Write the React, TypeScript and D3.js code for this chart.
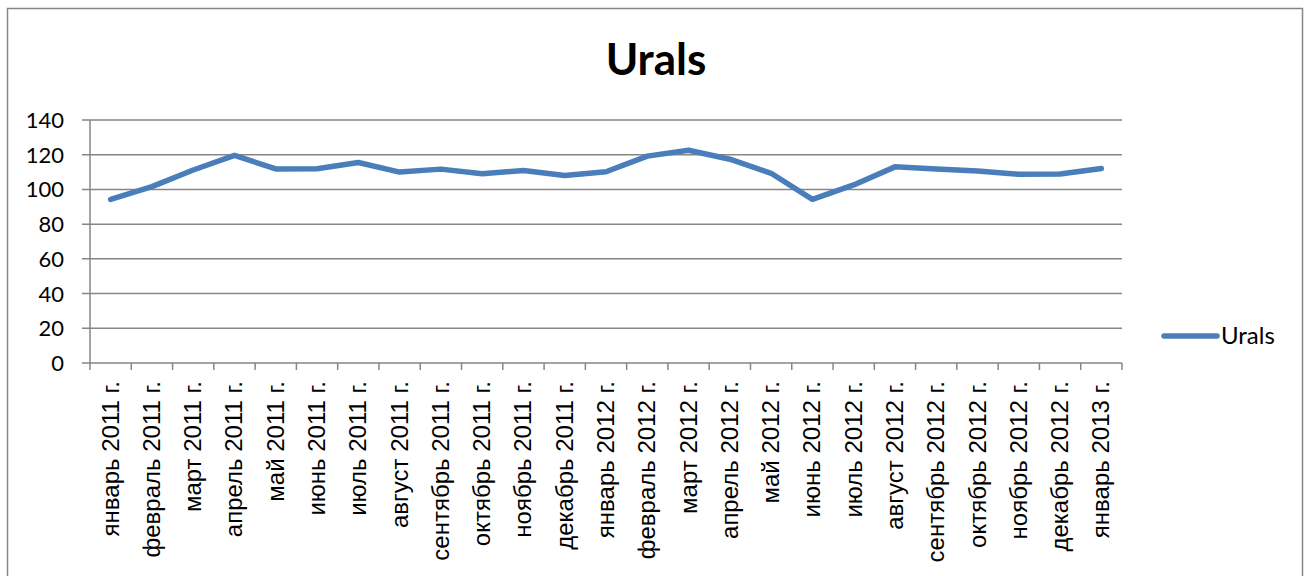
import React, { useEffect, useRef } from 'react';
import * as d3 from 'd3';

const months = [
  'январь 2011 г.', 'февраль 2011 г.', 'март 2011 г.', 'апрель 2011 г.', 'май 2011 г.',
  'июнь 2011 г.', 'июль 2011 г.', 'август 2011 г.', 'сентябрь 2011 г.', 'октябрь 2011 г.',
  'ноябрь 2011 г.', 'декабрь 2011 г.', 'январь 2012 г.', 'февраль 2012 г.', 'март 2012 г.',
  'апрель 2012 г.', 'май 2012 г.', 'июнь 2012 г.', 'июль 2012 г.', 'август 2012 г.',
  'сентябрь 2012 г.', 'октябрь 2012 г.', 'ноябрь 2012 г.', 'декабрь 2012 г.', 'январь 2013 г.'
];

const urals = [
  94.3, 101.6, 111.2, 119.6, 111.8, 111.9, 115.5, 110.0, 111.7, 109.0,
  110.9, 108.0, 110.2, 119.2, 122.6, 117.4, 109.3, 94.3, 102.6, 113.0,
  111.8, 110.6, 108.7, 108.9, 112.0
];

const yTicks = [0, 20, 40, 60, 80, 100, 120, 140];

const seriesName = 'Urals';

const App = () => {
  const ref = useRef<SVGSVGElement>(null);

  useEffect(() => {
    const svg = d3.select(ref.current);
    svg.selectAll('*').remove();

    const grey = '#868686';
    const blue = '#4a7ebb';
    const font = 'Lato, "Open Sans", sans-serif';

    // outer frame
    svg.append('rect')
      .attr('x', 7.5).attr('y', 8.5)
      .attr('width', 1295).attr('height', 600)
      .attr('fill', 'white')
      .attr('stroke', grey).attr('stroke-width', 1.5);

    svg.append('text')
      .attr('x', 656).attr('y', 75)
      .attr('text-anchor', 'middle')
      .attr('font-family', font)
      .attr('font-weight', 'bold')
      .attr('font-size', 44)
      .text(seriesName);

    const x = d3.scaleBand<string>().domain(months).range([90, 1122]);
    const y = d3.scaleLinear().domain([0, 140]).range([363, 120]);

    // gridlines
    svg.append('g')
      .selectAll('line')
      .data(yTicks.filter(d => d > 0))
      .join('line')
      .attr('x1', 82).attr('x2', 1122)
      .attr('y1', d => y(d)).attr('y2', d => y(d))
      .attr('stroke', grey).attr('stroke-width', 1.5);

    // y axis
    svg.append('line')
      .attr('x1', 90).attr('x2', 90)
      .attr('y1', y(140)).attr('y2', y(0))
      .attr('stroke', grey).attr('stroke-width', 1.5);

    svg.append('g')
      .selectAll('text')
      .data(yTicks)
      .join('text')
      .attr('x', 64)
      .attr('y', d => y(d) + 8)
      .attr('text-anchor', 'end')
      .attr('font-family', font)
      .attr('font-size', 22)
      .text(d => d);

    // x axis
    svg.append('line')
      .attr('x1', 82).attr('x2', 1122)
      .attr('y1', y(0)).attr('y2', y(0))
      .attr('stroke', grey).attr('stroke-width', 1.5);

    const bounds = months.map(m => x(m) as number).concat([1122]);
    svg.append('g')
      .selectAll('line')
      .data(bounds)
      .join('line')
      .attr('x1', d => d).attr('x2', d => d)
      .attr('y1', y(0)).attr('y2', y(0) + 7)
      .attr('stroke', grey).attr('stroke-width', 1.5);

    svg.append('g')
      .selectAll('text')
      .data(months)
      .join('text')
      .attr('transform', d => `translate(${(x(d) as number) + x.bandwidth() / 2 + 8},381) rotate(-90)`)
      .attr('text-anchor', 'end')
      .attr('font-family', '"Liberation Sans", Arial, sans-serif')
      .attr('font-size', 24)
      .text(d => d);

    // series line
    const line = d3.line<number>()
      .x((_, i) => (x(months[i]) as number) + x.bandwidth() / 2)
      .y(d => y(d));

    svg.append('path')
      .datum(urals)
      .attr('fill', 'none')
      .attr('stroke', blue)
      .attr('stroke-width', 5.5)
      .attr('stroke-linejoin', 'round')
      .attr('stroke-linecap', 'round')
      .attr('d', line);

    // legend
    svg.append('line')
      .attr('x1', 1164).attr('x2', 1217)
      .attr('y1', 336).attr('y2', 336)
      .attr('stroke', blue).attr('stroke-width', 5.5)
      .attr('stroke-linecap', 'round');

    svg.append('text')
      .attr('x', 1221).attr('y', 344)
      .attr('font-family', font)
      .attr('font-size', 24)
      .text(seriesName);
  }, []);

  return (
    <svg
      ref={ref}
      width={1309}
      height={576}
      style={{ position: 'absolute', left: 0, top: 0, background: 'white' }}
    />
  );
};

export default App;
